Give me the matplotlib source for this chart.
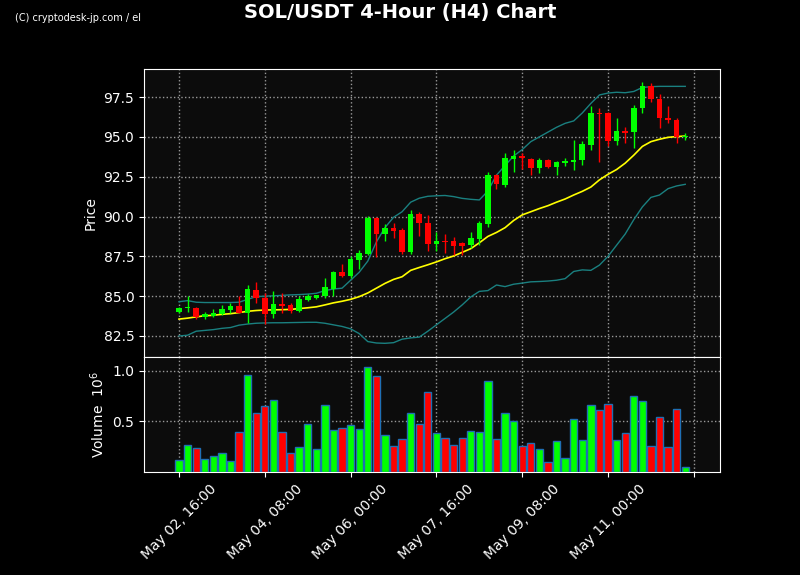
import numpy as np
import pandas as pd
import matplotlib
matplotlib.use('Agg')
import matplotlib.pyplot as plt

# 4h candles, May 02 16:00 onwards
dates = pd.date_range('2025-05-02 16:00', periods=60, freq='4h')

opens = [84.0, 84.25, 84.27, 83.69, 83.77, 83.88, 84.13, 84.38, 83.92, 85.38,
         84.9, 83.9, 84.53, 84.44, 84.06, 84.77, 84.9, 85.02, 85.47, 86.5,
         86.26, 87.27, 87.64, 89.9, 88.9, 89.28, 89.15, 87.75, 90.14, 89.57,
         88.29, 88.46, 88.46, 88.32, 88.21, 88.58, 89.51, 92.6, 91.98, 93.6,
         93.82, 93.61, 93.02, 93.54, 93.13, 93.36, 93.4, 93.54, 94.49, 96.5,
         96.48, 94.74, 95.37, 95.28, 96.79, 98.19, 97.37, 96.2, 96.06, 94.97]
highs = [84.35, 85.0, 84.3, 84.0, 84.17, 84.44, 84.55, 85.0, 85.7, 85.87,
         85.18, 85.3, 85.18, 84.6, 85.0, 85.15, 85.1, 86.12, 86.58, 87.0,
         87.52, 87.9, 90.01, 90.0, 89.51, 89.61, 89.26, 90.41, 90.26, 90.09,
         89.05, 88.9, 88.73, 88.42, 89.05, 89.72, 92.81, 92.65, 93.97, 94.17,
         93.97, 93.69, 93.65, 93.6, 93.48, 93.65, 94.8, 94.74, 96.95, 96.83,
         96.58, 96.16, 95.64, 97.0, 98.46, 98.36, 97.67, 96.95, 96.16, 95.22]
lows = [83.95, 84.0, 83.55, 83.55, 83.7, 83.84, 83.96, 83.92, 83.33, 84.55,
        83.24, 83.6, 83.96, 83.95, 84.0, 84.7, 84.85, 84.9, 85.0, 86.22,
        86.12, 86.7, 87.58, 87.44, 88.48, 88.63, 87.63, 87.64, 88.77, 87.83,
        87.83, 87.7, 87.58, 87.58, 88.0, 88.21, 89.36, 91.7, 91.83, 92.81,
        92.98, 92.6, 92.72, 93.07, 92.6, 93.19, 92.92, 93.23, 94.17, 93.4,
        94.44, 94.49, 94.59, 94.28, 96.48, 97.17, 95.57, 95.85, 94.59, 94.8]
closes = [84.25, 84.3, 83.71, 83.9, 83.94, 84.19, 84.38, 83.96, 85.45, 84.86,
          83.9, 84.5, 84.38, 84.08, 84.85, 85.0, 85.06, 85.6, 86.5, 86.28,
          87.33, 87.71, 89.89, 88.9, 89.28, 89.11, 87.75, 90.14, 89.57, 88.29,
          88.46, 88.38, 88.15, 88.17, 88.67, 89.6, 92.6, 92.02, 93.65, 93.8,
          93.65, 93.02, 93.54, 93.13, 93.4, 93.48, 93.53, 94.55, 96.48, 96.41,
          94.74, 95.37, 95.24, 96.83, 98.19, 97.36, 96.16, 96.04, 95.01, 95.05]
# volume in millions
volumes = [0.12, 0.27, 0.24, 0.13, 0.16, 0.19, 0.11, 0.40, 0.96, 0.58,
           0.65, 0.71, 0.40, 0.19, 0.25, 0.47, 0.23, 0.66, 0.42, 0.44,
           0.46, 0.43, 1.04, 0.95, 0.37, 0.26, 0.33, 0.58, 0.47, 0.79,
           0.39, 0.34, 0.27, 0.34, 0.41, 0.40, 0.90, 0.33, 0.58, 0.50,
           0.26, 0.29, 0.23, 0.10, 0.31, 0.14, 0.52, 0.32, 0.66, 0.61,
           0.67, 0.32, 0.39, 0.75, 0.70, 0.26, 0.54, 0.25, 0.62, 0.05]

# bollinger bands
bb_mid = [83.56, 83.62, 83.7, 83.77, 83.8, 83.86, 83.9, 83.97, 84.05, 84.1,
          84.13, 84.14, 84.15, 84.17, 84.22, 84.27, 84.33, 84.45, 84.58, 84.68,
          84.8, 84.97, 85.2, 85.5, 85.8, 86.05, 86.22, 86.62, 86.8, 86.97,
          87.15, 87.35, 87.52, 87.75, 87.98, 88.35, 88.75, 89.0, 89.3, 89.75,
          90.1, 90.3, 90.5, 90.68, 90.9, 91.1, 91.35, 91.58, 91.85, 92.3,
          92.65, 92.95, 93.35, 93.85, 94.4, 94.7, 94.85, 94.97, 95.02, 95.05]
bb_upper = [84.65, 84.72, 84.62, 84.6, 84.6, 84.6, 84.6, 84.62, 84.8, 84.97,
            85.0, 85.02, 85.05, 85.08, 85.1, 85.13, 85.18, 85.35, 85.45, 85.5,
            86.0, 86.5, 87.2, 88.4, 89.3, 89.95, 90.3, 90.9, 91.15, 91.27,
            91.3, 91.32, 91.25, 91.14, 91.08, 91.04, 91.6, 92.6, 93.2, 93.8,
            94.2, 94.7, 95.0, 95.3, 95.6, 95.85, 96.0, 96.5, 97.1, 97.63,
            97.75, 97.8, 97.77, 97.85, 98.1, 98.15, 98.17, 98.17, 98.17, 98.17]
bb_lower = [82.5, 82.55, 82.8, 82.85, 82.9, 82.98, 83.03, 83.18, 83.25, 83.3,
            83.32, 83.33, 83.33, 83.34, 83.35, 83.36, 83.36, 83.3, 83.2, 83.1,
            82.95, 82.65, 82.15, 82.06, 82.04, 82.08, 82.3, 82.38, 82.43, 82.8,
            83.2, 83.6, 84.0, 84.45, 84.95, 85.3, 85.35, 85.7, 85.6, 85.75,
            85.82, 85.9, 85.92, 85.95, 86.0, 86.1, 86.55, 86.65, 86.62, 86.95,
            87.5, 88.2, 88.9, 89.8, 90.6, 91.2, 91.35, 91.75, 91.92, 92.02]

up_col = '#00ff00'
dn_col = '#ff0000'

x = np.arange(len(dates))
o = np.array(opens)
c = np.array(closes)
colors = [up_col if cl >= op else dn_col for op, cl in zip(o, c)]

fig = plt.figure(figsize=(8, 5.75), dpi=100, facecolor='black')
ax = fig.add_axes([0.18, 0.3791, 0.72, 0.5009], facecolor='#0c0c0c')
axv = fig.add_axes([0.18, 0.1791, 0.72, 0.2], facecolor='#0c0c0c', sharex=ax)

# candles
ax.vlines(x, lows, highs, colors=colors, linewidth=1, zorder=3)
body = np.maximum(np.abs(c - o), 0.05)
ax.bar(x, body, bottom=np.minimum(o, c), width=0.65, color=colors, zorder=4)

ax.plot(x, bb_mid, color='yellow', linewidth=1.2, zorder=2)
ax.plot(x, bb_upper, color='#1a8080', linewidth=1, zorder=2)
ax.plot(x, bb_lower, color='#1a8080', linewidth=1, zorder=2)

ax.set_ylim(81.18, 99.26)
ax.set_yticks([82.5, 85.0, 87.5, 90.0, 92.5, 95.0, 97.5])
ax.set_yticklabels(['%.1f' % v for v in [82.5, 85.0, 87.5, 90.0, 92.5, 95.0, 97.5]])
ax.set_ylabel('Price', color='white', fontsize=10)

# volume
axv.bar(x, volumes, width=0.85, color=colors, edgecolor='#1f6fb4', linewidth=1, zorder=3)
axv.set_ylim(0, 1.137)
axv.set_yticks([0.5, 1.0])
axv.set_ylabel('Volume  $10^6$', color='white', fontsize=10)

ticks = np.arange(0, 61, 10)
labels = [dates[i].strftime('%b %d, %H:%M') if i < len(dates) else '' for i in ticks]
axv.set_xticks(ticks)
axv.set_xticklabels(labels, rotation=45, ha='center')
ax.set_xlim(-4.08, 63.05)
plt.setp(ax.get_xticklabels(), visible=False)

for a in (ax, axv):
    a.grid(True, color='#999999', linestyle=':', linewidth=1)
    a.set_axisbelow(True)
    a.tick_params(colors='white', labelsize=10)
    for s in a.spines.values():
        s.set_color('white')

fig.suptitle('SOL/USDT 4-Hour (H4) Chart', color='white', fontsize=14, fontweight='bold', y=0.995)
fig.text(0.019, 0.963, '(C) cryptodesk-jp.com / el', color='white', fontsize=7)

fig.savefig('out.png', dpi=100, facecolor='black')
